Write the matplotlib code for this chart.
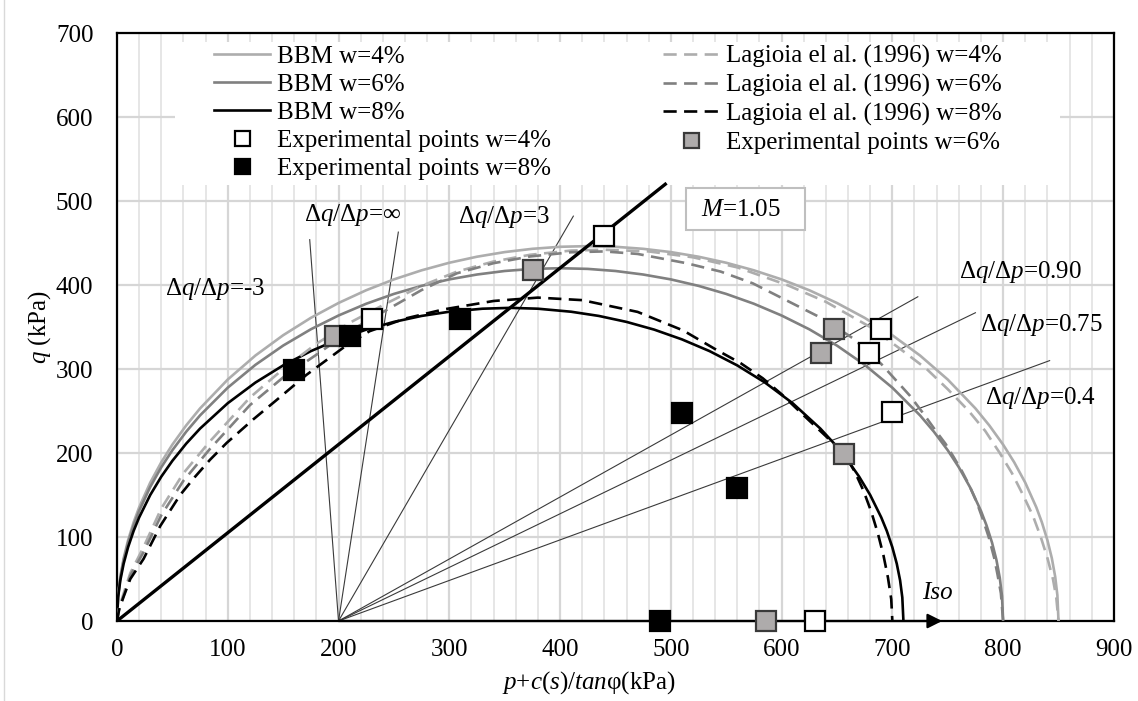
import matplotlib
matplotlib.use('Agg')
import matplotlib.pyplot as plt
from matplotlib.patches import Rectangle
from matplotlib.lines import Line2D
from matplotlib.ticker import MultipleLocator

plt.rcParams['font.family'] = ['Liberation Serif', 'DejaVu Serif']
plt.rcParams['mathtext.fontset'] = 'custom'
plt.rcParams['mathtext.rm'] = 'Liberation Serif'
plt.rcParams['mathtext.it'] = 'Liberation Serif:italic'
plt.rcParams['mathtext.bf'] = 'Liberation Serif:bold'

# ---------------- data ----------------
bbm4_p = [0, 1, 3, 6, 10, 15, 20, 30, 40, 50, 62.5, 75, 100, 125, 150, 175, 200, 225, 250, 275, 300, 325,
          350, 375, 400, 425, 450, 475, 500, 525, 550, 575, 600, 625, 650, 675, 700, 725, 750, 775, 787.5,
          800, 810, 820, 830, 835, 840, 844, 847, 849, 850]
bbm4_q = [0, 30.6, 52.9, 74.7, 96.2, 117.5, 135.3, 164.7, 189.0, 210.0, 232.9, 253.1, 287.5, 316.1, 340.2,
          360.9, 378.6, 393.8, 406.7, 417.5, 426.5, 433.7, 439.2, 443.1, 445.5, 446.3, 445.5, 443.1, 439.2,
          433.7, 426.5, 417.5, 406.7, 393.8, 378.6, 360.9, 340.2, 316.1, 287.5, 253.1, 232.9, 210.0, 189.0,
          164.7, 135.3, 117.5, 96.2, 74.7, 52.9, 30.6, 0]

bbm6_p = [0, 1, 3, 6, 10, 15, 20, 30, 40, 50, 62.5, 75, 100, 125, 150, 175, 200, 225, 250, 275, 300, 325,
          350, 375, 400, 425, 450, 475, 500, 525, 550, 575, 600, 625, 650, 675, 700, 725, 737.5, 750, 760,
          770, 780, 785, 790, 794, 797, 799, 800]
bbm6_q = [0, 29.7, 51.3, 72.5, 93.3, 113.9, 131.1, 159.6, 183.1, 203.3, 225.4, 244.8, 277.8, 305.0, 327.9,
          347.3, 363.7, 377.7, 389.4, 399.0, 406.7, 412.5, 416.7, 419.2, 420.0, 419.2, 416.7, 412.5, 406.7,
          399.0, 389.4, 377.7, 363.7, 347.3, 327.9, 305.0, 277.8, 244.8, 225.4, 203.3, 183.1, 159.6, 131.1,
          113.9, 93.3, 72.5, 51.3, 29.7, 0]

bbm8_p = [0, 1, 3, 6, 10, 15, 20, 30, 40, 50, 62.5, 75, 100, 125, 150, 175, 200, 225, 250, 275, 300, 330,
          355, 380, 410, 435, 460, 485, 510, 535, 560, 585, 610, 635, 647.5, 660, 670, 680, 690, 695, 700,
          704, 707, 709, 710]
bbm8_q = [0, 28.0, 48.4, 68.2, 87.8, 107.2, 123.3, 150.0, 171.9, 190.7, 211.2, 229.1, 259.3, 283.9, 304.3,
          321.3, 335.3, 346.9, 356.1, 363.2, 368.2, 371.8, 372.8, 371.8, 368.2, 363.2, 356.1, 346.9, 335.3,
          321.3, 304.3, 283.9, 259.3, 229.1, 211.2, 190.7, 171.9, 150.0, 123.3, 107.2, 87.8, 68.2, 48.4,
          28.0, 0]

lag4_p = [0, 2, 6, 12, 24, 40, 60, 84, 120, 150, 180, 210, 243, 275, 307, 340, 373, 410, 440, 480, 520, 560,
          605, 640, 680, 705, 731, 750, 769, 784, 797, 808, 818, 827, 834, 840, 845, 848, 850]
lag4_q = [0, 16, 33, 57, 88, 134, 176, 214, 266, 300, 330, 355, 378, 399, 416, 428, 436, 441, 442, 440, 433,
          421, 400, 380, 350, 326, 300, 276, 250, 226, 200, 176, 150, 125, 100, 75, 50, 28, 0]

lag6_p = [0, 2, 6, 12, 24, 40, 60, 84, 120, 150, 180, 210, 243, 275, 307, 340, 373, 410, 440, 470, 514, 545,
          574, 610, 640, 665, 690, 716, 728, 740, 748, 755, 763, 770, 776, 782, 787, 792, 795, 798, 800]
lag6_q = [0, 15, 30, 54, 82, 126, 167, 205, 257, 290, 317, 345, 370, 394, 414, 426, 434, 439, 440, 437, 426,
          416, 402, 378, 358, 336, 306, 268, 247, 225, 211, 196, 178, 160, 142, 120, 100, 75, 55, 33, 0]

lag8_p = [0, 2, 6, 12, 24, 39, 57, 70, 84, 99, 123, 144, 171, 207, 228, 260, 295, 340, 380, 420, 470, 511,
          541, 563, 583, 600, 619, 640, 657, 666, 674, 681, 687, 692, 696, 699, 700]
lag8_q = [0, 14, 29, 50, 74, 113, 150, 171, 192, 212, 240, 263, 293, 328, 345, 360, 371, 381, 385, 382, 368,
          346, 323, 307, 289, 270, 246, 220, 198, 178, 155, 130, 104, 78, 52, 26, 0]

exp4_p = [230, 440, 679, 690, 700, 630]
exp4_q = [359, 458, 319, 348, 249, 0]
exp6_p = [197, 376, 636, 647, 656, 586]
exp6_q = [339, 418, 319, 348, 199, 0]
exp8_p = [160, 210, 310, 510, 560, 490]
exp8_q = [299, 339, 359, 248, 158, 0]

csl_p = [0, 495]
csl_q = [0, 520]

path_start = (200, 0)
path_end_p = [174, 254, 412, 723, 775, 842]
path_end_q = [454, 463, 482, 386, 367, 310]

iso_p = [200, 745]

ann_text = [r'$\Delta q/\Delta p$=-3', r'$\Delta q/\Delta p$=∞', r'$\Delta q/\Delta p$=3',
            r'$\Delta q/\Delta p$=0.90', r'$\Delta q/\Delta p$=0.75', r'$\Delta q/\Delta p$=0.4']
ann_p = [43, 169, 308, 760, 779, 784]
ann_q = [395, 483, 481, 415, 352, 265]

# ---------------- figure ----------------
fig = plt.figure(figsize=(11.38, 7.01), dpi=100)
ax = fig.add_axes([0.1028, 0.1141, 0.876, 0.8388])
ax.set_xlim(0, 900)
ax.set_ylim(0, 700)
ax.xaxis.set_major_locator(MultipleLocator(100))
ax.xaxis.set_minor_locator(MultipleLocator(20))
ax.yaxis.set_major_locator(MultipleLocator(100))
ax.tick_params(which='both', length=0)
ax.tick_params(axis='x', labelsize=18, pad=13)
ax.tick_params(axis='y', labelsize=18, pad=17)
ax.set_axisbelow(True)
ax.grid(which='major', axis='both', color='#d6d6d6', lw=1.6)
ax.grid(which='minor', axis='x', color='#e2e2e2', lw=1.2)
for s in ax.spines.values():
    s.set_linewidth(1.6)
    s.set_color('black')

# white legend background
ax.add_patch(Rectangle((0.0582, 0.7415), 0.8876, 0.2432, transform=ax.transAxes,
                       facecolor='white', edgecolor='none', zorder=1))

c_light = '#ADADAD'
c_mid = '#808080'
dash = (5, 2.8)
lw = 1.9

l_bbm4, = ax.plot(bbm4_p, bbm4_q, color=c_light, lw=lw, zorder=3)
l_bbm6, = ax.plot(bbm6_p, bbm6_q, color=c_mid, lw=lw, zorder=3)
l_bbm8, = ax.plot(bbm8_p, bbm8_q, color='black', lw=lw, zorder=3)
l_lag4, = ax.plot(lag4_p, lag4_q, color=c_light, lw=lw, dashes=dash, zorder=3)
l_lag6, = ax.plot(lag6_p, lag6_q, color=c_mid, lw=lw, dashes=dash, zorder=3)
l_lag8, = ax.plot(lag8_p, lag8_q, color='black', lw=lw, dashes=dash, zorder=3)

# critical state line
ax.plot(csl_p, csl_q, color='black', lw=2.4, zorder=3)

# stress paths
for pe, qe in zip(path_end_p, path_end_q):
    ax.plot([path_start[0], pe], [path_start[1], qe], color='#3a3a3a', lw=0.8, zorder=2.5)

# isotropic path arrow
ax.annotate('', xy=(iso_p[1], 0), xytext=(iso_p[0], 0),
            arrowprops=dict(arrowstyle='-|>', color='black', lw=1.6, mutation_scale=22,
                            shrinkA=0, shrinkB=0), zorder=4, annotation_clip=False)
ax.text(727, 33, 'Iso', fontsize=18, style='italic', ha='left', va='center', zorder=5)

ms = 15
m_exp4, = ax.plot(exp4_p, exp4_q, ls='none', marker='s', ms=ms, mfc='white', mec='black', mew=1.6, clip_on=False, zorder=5)
m_exp6, = ax.plot(exp6_p, exp6_q, ls='none', marker='s', ms=ms, mfc='#AEABAB', mec='#3a3a3a', mew=1.6, clip_on=False, zorder=5)
m_exp8, = ax.plot(exp8_p, exp8_q, ls='none', marker='s', ms=ms, mfc='black', mec='black', mew=1.6, clip_on=False, zorder=5)

for t, px, qy in zip(ann_text, ann_p, ann_q):
    ax.text(px, qy, t, fontsize=18, ha='left', va='center', zorder=6)

# M box
ax.add_patch(Rectangle((0.5707, 0.665), 0.1193, 0.0714, transform=ax.transAxes,
                       facecolor='white', edgecolor='#bfbfbf', lw=1.5, zorder=5))
ax.text(527, 489, r'$M$=1.05', fontsize=18, ha='left', va='center', zorder=6)

handles = [l_bbm4, l_bbm6, l_bbm8, m_exp4, m_exp8, l_lag4, l_lag6, l_lag8, m_exp6]
labels = ['BBM w=4%', 'BBM w=6%', 'BBM w=8%', 'Experimental points w=4%', 'Experimental points w=8%',
          'Lagioia el al. (1996) w=4%', 'Lagioia el al. (1996) w=6%', 'Lagioia el al. (1996) w=8%',
          'Experimental points w=6%']
leg = ax.legend(handles, labels, ncol=2, loc='upper left', bbox_to_anchor=(0.0973, 0.979),
                frameon=False, fontsize=18, handlelength=2.24, handletextpad=0.28,
                columnspacing=4.5, labelspacing=0.22, borderpad=0, borderaxespad=0,
                markerscale=0.72)
leg.set_zorder(7)

ax.set_xlabel(r'$p$+$c(s)/tan$φ(kPa)', fontsize=18)
ax.xaxis.set_label_coords(0.473, -0.1054)
ax.xaxis.label.set_va('center')
ax.set_ylabel(r'$q$ (kPa)', fontsize=18)
ax.yaxis.set_label_coords(-0.0772, 0.5)
ax.yaxis.label.set_va('center')

fig.add_artist(Line2D([4 / 1138, 4 / 1138], [0, 1], color='#d9d9d9', lw=1.0))

fig.savefig('out.png', dpi=100)
